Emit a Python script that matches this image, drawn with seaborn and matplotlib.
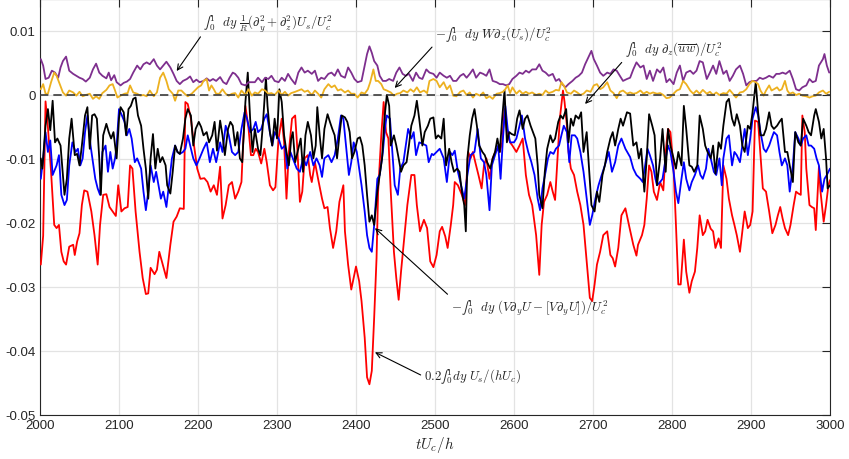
import numpy as np
import pandas as pd
import matplotlib
matplotlib.use("Agg")
import matplotlib.pyplot as plt
import seaborn as sns

# All series values are in units of 1e-3 (multiplied by SCALE before plotting)
SCALE = 1e-3

# 0.2 \int U_s/(hU_c)  (red)
red = [(2001,-26.5),(2004,-22),(2007,-1),(2010,-5),(2014,-12),(2018,-20.3),(2021,-20.8),(2024,-20.3),
       (2027,-24.5),(2030,-26),(2033,-26.5),(2037,-23.7),(2042,-23.4),(2044,-25),(2047,-22.9),(2050,-21.6),
       (2053,-17.2),(2056,-14.9),(2060,-15.1),(2065,-18.2),(2069,-21.9),(2073,-26.5),(2076,-20.3),(2080,-15.6),
       (2084,-15.5),(2088,-17.5),(2092,-18.2),(2096,-18.9),(2099,-14.1),(2103,-18.2),(2107,-17.7),(2111,-17.5),
       (2114,-11),(2117,-11.5),(2121,-18.2),(2126,-24.5),(2130,-28.6),(2134,-31.1),(2137,-31),(2140,-27),
       (2145,-28),(2148,-27.3),(2151,-24.5),(2155,-26.3),(2160,-28.6),(2165,-23.4),(2169,-19.8),(2173,-19),
       (2177,-17.7),(2182,-17.8),(2184,-1.1),(2187,-1.4),(2191,-3.7),(2195,-7.9),(2199,-11.5),(2203,-13.1),
       (2208,-13),(2212,-13.6),(2216,-15.1),(2220,-14.1),(2224,-15.6),(2228,-11.2),(2231,-19.3),(2235,-17.2),
       (2239,-14.1),(2243,-13.6),
       (2247,-16.2),(2251,-15.1),(2255,-13.6),(2257,-7.9),(2260,-1.7),(2264,-5.3),(2267,-9.4),(2270,-9.4),
       (2273,-8.4),(2276,-8.9),(2280,-10.7),(2284,-8.4),(2287,-10.5),(2291,-14.1),(2295,-14.9),(2298,-14.4),
       (2302,-6.8),(2306,-3.7),(2309,-7.4),(2312,-16.2),(2315,-8.9),(2319,-3.7),(2323,-3.2),(2326,-8.9),
       (2329,-16.7),(2332,-15.1),(2335,-9.9),(2339,-9.4),(2342,-12.5),(2344,-13.6),(2348,-10.5),(2352,-13.1),
       (2357,-16.2),(2360,-17.7),(2364,-17.5),(2367,-20.8),(2371,-23.9),(2375,-21.3),(2379,-16.7),(2384,-14.1),
       (2386,-21.3),(2390,-26.5),(2394,-30.4),(2397,-28.6),(2400,-26.8),(2404,-29.1),(2407,-32.2),(2411,-37.9),
       (2414,-44.1),(2417,-45.2),(2420,-43.1),(2423,-34.8),(2426,-25.5),(2428,-15.1),(2432,-6.3),(2435,-1.1),
       (2438,-5.8),(2441,-6.8),(2444,-15.1),(2448,-24.5),(2451,-28.6),(2454,-32),(2457,-27.6),(2461,-22.4),
       (2465,-17.2),(2470,-12.5),(2474,-12.5),(2477,-17.2),(2481,-21.3),(2486,-19.5),(2490,-20.8),(2494,-26),
       (2498,-26.9),(2502,-25),(2506,-21.3),(2509,-20.6),(2513,-22.1),(2516,-23.9),(2520,-20.3),(2523,-17.2),
       (2525,-13.6),(2529,-14.1),(2534,-15.6),(2538,-17.2),(2542,-8.9),(2545,-9.9),(2548,-8.9),(2551,-10.5),
       (2555,-12.5),(2559,-14.6),(2562,-11),(2565,-9.9),(2569,-13.1),(2573,-9.9),(2578,-8.4),(2582,-8.9),
       (2585,-7.4),(2588,-2.2),(2591,-5.8),(2595,-7.4),(2598,-7.9),(2603,-8.9),(2607,-7.9),(2611,-6.8),
       (2615,-12.5),(2619,-15.6),(2623,-17.2),(2628,-21.9),(2632,-28.1),(2635,-20.3),(2638,-16.7),(2642,-15.6),
       (2646,-13.6),(2649,-15.1),(2652,-16.4),(2655,-9.9),(2658,-3.7),(2662,0.7),(2664,-1.1),(2667,-4.8),
       (2669,-8.9),(2672,-11.5),(2676,-12.5),(2680,-15.1),(2684,-17.2),(2688,-20.3),(2692,-26),(2696,-31.7),
       (2699,-32.2),(2702,-29.6),(2705,-26.5),(2709,-24.5),(2713,-21.9),(2718,-21.3),(2722,-25),(2725,-25.5),
       (2728,-26.8),(2732,-23.9),(2736,-18.8),(2741,-17.7),
       (2746,-20.6),(2751,-23.4),(2755,-25.1),(2757,-23.4),(2762,-21.9),(2765,-20.3),(2768,-16.2),(2771,-11),
       (2774,-12),(2777,-15.1),(2781,-16.4),(2785,-13.6),(2789,-14.9),(2792,-8.9),(2795,-5.3),(2798,-5.8),
       (2802,-11.5),(2805,-20.3),(2808,-29.6),(2811,-29.6),(2815,-22.6),(2818,-27.6),(2822,-30.9),(2825,-29.1),
       (2829,-27.6),(2832,-23.9),(2835,-18.8),(2839,-21.9),(2842,-21.3),(2845,-19.5),(2849,-20.9),(2852,-21.3),
       (2855,-23.9),(2859,-22.4),(2862,-23.9),(2865,-11),(2869,-13.1),(2872,-16.2),(2876,-18.8),(2879,-20.3),
       (2882,-21.9),(2886,-24.5),(2889,-21.3),(2892,-18.2),(2896,-20.8),(2899,-20.3),(2902,-18.2),(2905,-4),
       (2909,-4.2),(2912,-9.4),(2915,-14.6),(2919,-15.1),(2923,-18.2),(2927,-21.6),(2931,-20.3),(2934,-18.8),
       (2937,-17.5),(2940,-19.3),(2943,-20.8),(2947,-21.9),(2950,-20.3),(2954,-17.2),(2957,-15.1),(2960,-15.4),
       (2963,-15.6),(2965,-3.2),(2968,-5.8),(2970,-11.5),(2974,-17.2),(2977,-17.5),(2980,-17.7),(2982,-21.1),
       (2986,-11.2),(2988,-15.1),(2992,-19.8),(2995,-17.2),(2998,-14.1),(3000,-13.3)]

# -\int (V d_y U - [V d_y U]) / U_c^2  (blue)
blue = [(2001,-13.1),(2004,-9.9),(2007,-5.8),(2010,-8.9),(2013,-7.1),(2016,-12.5),(2021,-11),(2024,-9.4),
        (2027,-15.6),(2031,-17.2),(2034,-16.4),(2037,-11),(2041,-7.4),(2045,-8.9),(2048,-8.4),(2051,-11),
        (2054,-9.9),(2057,-5.8),(2060,-3.2),(2064,-7.9),(2067,-10.5),(2070,-13.1),(2073,-14.6),(2076,-15.6),
        (2079,-8.9),(2083,-7.9),(2086,-12),(2089,-8.9),(2092,-11.5),(2095,-9.9),(2097,-7.9),(2100,-2.2),
        (2103,-3),(2107,-4.2),(2110,-6.3),(2113,-5.3),(2116,-6.8),(2120,-10.5),(2123,-9.9),(2128,-11.5),
        (2131,-15.1),(2134,-18),(2137,-15.1),(2140,-11),(2144,-13.6),(2147,-12),(2150,-14.1),(2153,-16.2),
        (2156,-15.1),(2160,-17.5),(2164,-13.1),(2167,-9.9),(2171,-7.9),(2174,-8.9),(2177,-9.2),(2181,-8.9),
        (2184,-8.4),(2187,-6.3),(2191,-8.4),(2194,-9.9),(2198,-11),(2202,-9.9),(2207,-8.4),(2211,-7.4),
        (2215,-10.5),(2219,-8.4),(2223,-10.5),(2228,-7.4),(2231,-8.9),(2235,-4.8),(2239,-6.3),(2243,-8.9),
        (2247,-9.4),(2251,-8.9),(2255,-5.3),(2259,-2.7),(2262,-3.7),(2266,-5.8),(2270,-5.3),(2273,-4.2),
        (2276,-5.8),(2280,-5.3),(2284,-3.7),(2287,-3),(2291,-5.8),(2294,-7.9),(2297,-5.8),(2302,-6.8),
        (2306,-8.4),(2310,-7.9),(2313,-11.5),(2317,-8.9),(2320,-9.9),(2325,-11.5),(2329,-12),(2333,-9.9),
        (2337,-11),(2342,-8.9),(2346,-11),(2350,-9.9),(2354,-11),(2357,-12.8),(2360,-9.9),(2365,-9.4),
        (2369,-10.5),(2373,-9.4),(2377,-6.8),(2381,-3.2),(2384,-3.7),(2387,-7.4),(2391,-12.5),(2394,-10.5),
        (2397,-7.4),(2401,-8.9),(2404,-11.5),(2407,-14.1),(2411,-18.2),(2414,-21.9),(2417,-23.9),(2420,-24.5),
        (2423,-20.3),(2427,-13.1),(2430,-12.5),(2434,-8.9),(2437,-4.8),(2439,-3.2),(2443,-3.7),(2446,-8.9),
        (2449,-14.1),(2453,-15.6),(2456,-11.5),(2460,-10.5),(2463,-7.9),(2466,-5.3),(2470,-6.8),(2473,-5.8),
        (2476,-9.4),(2480,-7.4),(2484,-7.6),(2489,-7.9),(2492,-10.5),(2496,-9.2),
        (2498,-9.4),(2502,-8.9),(2506,-8.4),(2511,-9.9),(2515,-13.6),(2519,-8.9),(2522,-9.4),(2525,-8.7),
        (2529,-12),(2533,-14.1),(2537,-16.2),(2541,-12.5),(2545,-9.4),(2550,-8.9),(2554,-5.3),(2558,-9.9),
        (2562,-10.5),(2565,-12.5),(2569,-18),(2572,-11),(2576,-9.4),(2580,-7.9),(2583,-13.1),(2586,-6.8),
        (2589,-1.7),(2592,-5.3),(2595,-7.4),(2600,-7.4),(2603,-6.8),(2606,-5.3),(2610,-3.2),(2614,-6.8),
        (2618,-8.9),(2622,-10.5),(2626,-12.5),(2630,-16.2),(2633,-18),(2636,-14.6),(2640,-12),(2643,-9.9),
        (2646,-8.9),(2650,-9.2),(2653,-8.4),(2657,-7.9),(2660,-6.3),(2663,-4.8),(2667,-5.8),(2670,-10.5),
        (2673,-6.3),(2677,-6.3),(2680,-6.8),(2684,-8.9),(2688,-12),(2692,-16.2),(2696,-20.3),(2699,-18.8),
        (2703,-16.2),(2707,-14.1),(2711,-12.5),(2715,-11),(2720,-8.9),(2724,-12),(2728,-10.5),(2732,-7.9),
        (2736,-6.8),(2741,-8.4),
        (2747,-9.7),(2751,-11.5),(2755,-12.5),(2760,-13.1),(2763,-13.6),(2766,-11),(2769,-8.4),(2772,-9.4),
        (2776,-11),(2779,-13.1),(2781,-14.1),(2785,-13.6),(2788,-13.1),(2792,-9.9),(2795,-7.9),(2798,-8.9),
        (2802,-12),(2805,-15.1),(2808,-16.9),(2812,-13.1),(2815,-10.5),(2818,-13.1),(2822,-14.9),(2825,-13.6),
        (2829,-12.5),(2833,-11),(2836,-12.5),(2839,-13.1),(2843,-11.5),(2846,-8.4),(2849,-9.9),(2853,-12),
        (2856,-12.5),(2860,-9.9),(2863,-14.1),(2865,-9.9),(2869,-6.8),(2872,-6.3),(2876,-11),(2879,-8.9),
        (2882,-9.4),(2886,-10.5),(2889,-7.9),(2892,-5.3),(2896,-9.4),(2899,-6.8),(2902,-3.7),(2906,-1.9),
        (2909,-3.2),(2912,-5.8),(2916,-8.4),(2919,-8.9),(2923,-7.9),(2926,-6.8),(2929,-5.8),(2933,-6.3),
        (2936,-8.9),(2939,-11),(2943,-9.9),(2946,-11),(2949,-15.1),(2953,-11),(2956,-5.8),(2960,-6.8),
        (2963,-7.9),(2966,-6.8),(2970,-6.3),(2973,-7.9),(2976,-7.9),(2980,-8.4),(2983,-9.9),(2986,-11),
        (2990,-15.1),(2993,-13.1),(2996,-12.5),(3000,-11.5)]

# \int (1/R)(d_y^2 + d_z^2) U_s / U_c^2 ... black trace
black = [(2001,-9.9),(2003,-11.5),(2007,-4.8),(2010,-2.2),(2013,-5.5),(2016,-0.9),(2019,-7.4),(2022,-6.8),
         (2026,-7.9),(2029,-12.5),(2031,-15.6),(2034,-13.1),(2037,-6.8),(2040,-3.7),(2044,-9.4),(2047,-9.2),
         (2050,-11),(2053,-7.9),(2057,-3.2),(2060,-1.9),(2063,-8.4),(2066,-3.2),(2069,-3),(2072,-3.7),
         (2075,-9.9),(2077,-15.6),(2080,-6.3),(2084,-4.5),(2087,-5.8),(2090,-6.8),(2093,-5.8),(2097,-9.9),
         (2100,-3.7),(2102,-1.9),(2106,-2.7),(2109,-6.3),(2112,-2.2),(2115,-1.7),(2118,-0.6),(2121,-0.4),
         (2124,-3.2),(2128,-4.8),(2131,-8.4),(2134,-11.5),(2137,-16.2),(2140,-9.9),(2143,-6.1),(2146,-11.5),
         (2149,-8.4),(2152,-10.5),(2155,-9.7),(2159,-11),(2161,-14.1),(2165,-15.4),(2168,-12),(2171,-7.9),
         (2174,-8.9),(2177,-9.2),(2181,-6.8),(2184,-3.7),(2187,-2.2),(2191,-3.2),(2194,-7.9),(2197,-5.3),
         (2201,-4.2),(2204,-5),(2207,-6.3),(2211,-5.8),(2214,-7.4),(2218,-6.3),(2221,-4.2),(2224,-8.7),
         (2228,-4),(2231,-6.3),(2234,-9.4),(2238,-5.3),(2241,-4.2),(2244,-4.8),
         (2247,-7.9),(2250,-5.8),(2253,-9.9),(2256,-10.5),(2260,-1.1),(2263,3.5),(2266,-3.7),(2269,-8.9),
         (2272,-5.3),(2276,-8.4),(2279,-9.4),(2282,-4.8),(2286,2.7),(2288,-1.7),(2291,-5.8),(2294,-7.9),
         (2297,-3.7),(2300,-6.8),(2303,0.9),(2306,-1.1),(2309,-6.3),(2312,-8.9),(2315,-11),(2318,-6.8),
         (2320,-5.8),(2323,-10.5),(2327,-8.4),(2330,-6.8),(2333,-12),(2336,-6.3),(2339,-4.2),(2343,-6.3),
         (2346,-9.9),(2349,-7.9),(2351,-1.9),(2354,-6.3),(2357,-9.9),(2360,-5.3),(2364,-3),(2367,-4.2),
         (2370,-5.3),(2373,-6.3),(2376,-9.9),(2379,-6.3),(2382,-3.2),(2386,-3.5),(2389,-4.2),(2392,-5.8),
         (2395,-9.9),(2398,-8.9),(2402,-6.8),(2405,-6.6),(2408,-7.9),(2411,-11),(2414,-15.6),(2417,-19.8),
         (2420,-18.8),(2423,-20.3),(2427,-15.1),(2430,-12.5),(2433,-9.9),(2436,-3.7),(2439,0),(2442,-1.7),
         (2444,-7.9),(2448,-6.3),(2451,-7.9),(2454,-9.9),(2457,-12),(2460,-11),(2464,-10.5),(2467,-7.9),
         (2470,-4.8),(2474,-3.2),(2477,-0.9),(2480,-3.7),(2484,-7.9),(2487,-5.8),(2491,-4.8),(2494,-3.7),
         (2498,-3.5),(2501,-6.8),(2504,-6.3),(2508,-6.8),(2511,-3.7),(2514,-11),(2518,-8.4),(2521,-10.5),
         (2524,-12),(2528,-11.5),(2531,-12),(2534,-15.1),(2537,-17.2),(2539,-21.3),(2541,-9.9),(2544,-6.3),
         (2547,-3.7),(2550,-2.2),(2553,-4.8),(2556,-7.9),(2560,-8.9),(2563,-9.4),(2566,-10.5),(2570,-11.5),
         (2573,-9.9),(2576,-8.9),(2579,-6.8),(2582,-8.9),(2585,-3.7),(2588,0.7),(2591,-7.4),(2594,-5.8),
         (2597,-6.1),(2601,-6.3),(2604,-3.7),(2607,-2.4),(2611,-5.3),(2614,-3.7),(2617,-3.2),(2621,-4.8),
         (2624,-5.8),(2627,-6.8),(2630,-11),(2632,-15.6),(2636,-17.7),(2639,-12),(2642,-8.4),(2646,-6.3),
         (2649,-7.4),(2652,-6.8),(2656,-4.2),(2659,-3.2),(2662,-3.7),(2666,-2.2),(2669,-7.4),(2672,-3.7),
         (2675,-4.8),(2678,-3.2),(2682,-3.7),(2685,-2.7),(2688,-8.9),(2692,-5.8),(2695,-11.5),(2698,-17.2),
         (2702,-18.2),(2705,-15.1),(2708,-16.7),(2712,-12.5),(2715,-11),(2718,-8.9),(2722,-6.8),(2725,-5.8),
         (2728,-7.9),(2732,-5.3),(2735,-3.7),(2738,-4.8),(2743,-2.7),
         (2747,-2.9),(2751,-7.9),(2755,-7.4),(2758,-9.9),(2761,-8.4),(2765,-15.1),(2768,-9.9),(2771,-3),
         (2775,-4.8),(2778,-6.3),(2781,-14.1),(2785,-9.9),(2788,-5.3),(2792,-12),(2795,-5.3),(2798,-7.9),
         (2802,-9.9),(2805,-11.5),(2808,-8.9),(2812,-11),(2815,-1.7),(2818,-5.3),(2822,-11),(2825,-11.2),
         (2828,-12),(2832,-11),(2835,-3.2),(2839,-5.3),(2842,-7.9),(2845,-8.9),(2849,-9.9),(2852,-7.9),
         (2855,-12.3),(2859,-7.4),(2862,-8.4),(2865,-4.8),(2869,-1.1),(2872,-0.6),(2876,-3.7),(2879,-4.8),
         (2882,-3),(2886,-4.8),(2889,-7.9),(2892,-8.9),(2896,-4.8),(2899,-5.3),(2902,-2.7),(2906,2),
         (2909,-2.7),(2912,-6.3),(2916,-6.3),(2919,-5.3),(2923,-2.7),(2926,-4.8),(2929,-5.3),(2933,-4.8),
         (2936,-4.2),(2939,-3.7),(2943,-8.9),(2946,-8.9),(2949,-11),(2953,-13.6),(2956,-5.8),(2960,-7.4),
         (2963,-7.9),(2966,-3.7),(2970,-4.8),(2973,-5.8),(2976,-6.3),(2980,-3.2),(2982,-2.2),(2986,-4.2),
         (2989,-6.8),(2992,-5.3),(2995,-9.9),(2997,-14.6),(3000,-14.1)]

# \int d_z(uw)/U_c^2 (purple)
purple = [(2001,5.6),(2004,4.6),(2007,2.5),(2011,2.7),(2015,3.8),(2019,3.5),(2023,2.7),(2026,4.3),
          (2029,5.3),(2033,6),(2037,3.8),(2042,3.3),(2046,3),(2050,2.7),(2054,2.5),(2058,2.1),
          (2063,2.7),(2067,4),(2071,4.9),(2075,3.5),(2079,3),(2084,2.6),(2087,3.5),(2090,2.3),
          (2094,3.1),(2097,2),(2102,1.5),(2106,1.9),(2110,2.1),(2114,2.5),(2118,3.5),(2123,4.6),
          (2127,4),(2131,4.8),(2135,5.1),(2139,4.8),(2144,5.6),(2148,4.6),(2152,4),(2156,4.6),
          (2160,5.2),(2165,4.3),(2169,3.3),(2173,2.2),(2177,1.7),(2181,2.2),(2186,2.5),(2190,2.9),
          (2194,2),(2198,2.4),(2202,2),(2207,2.2),(2211,2.6),(2215,2.2),(2219,2.5),(2223,2.2),
          (2228,2.8),(2232,2),(2236,1.7),(2240,2.7),(2244,3.5),
          (2247,3.3),(2251,2.7),(2255,1.7),(2260,1.5),(2264,2),(2268,2),(2272,2),(2276,2.7),
          (2281,2),(2285,2.7),(2289,2.5),(2293,3),(2297,2.2),(2302,2),(2306,2.7),(2310,2.2),
          (2314,3.3),(2318,2.5),(2323,1.7),(2327,3.5),(2331,4.3),(2335,3.5),(2339,3.8),(2344,3.3),
          (2348,3.8),(2352,2.2),(2356,2.7),(2360,2.5),(2365,3.3),(2369,3.5),(2373,3),(2377,4),
          (2381,3),(2386,2.7),(2390,4.3),(2394,3.5),(2398,2.5),(2402,2),(2407,2.2),(2411,4.6),
          (2414,6.4),(2417,7.6),(2420,6.6),(2423,5.3),(2427,4.6),(2430,3),(2434,2.2),(2438,2.2),
          (2442,2.5),(2447,2.2),(2451,3.5),(2455,4.3),(2459,3.3),(2463,3),(2467,3.3),(2472,2.2),
          (2476,3.5),(2480,2.7),(2484,2.5),(2489,4),(2493,3.5),
          (2498,3.3),(2502,2.7),(2506,3.5),(2511,3),(2515,2.7),(2519,3),(2523,2.2),(2527,2.2),
          (2532,3),(2536,3.3),(2540,2.7),(2544,3.3),(2548,4),(2552,2.7),(2557,3.5),(2561,3.3),
          (2565,3),(2569,4),(2573,2.2),(2578,2),(2582,1.7),(2586,1.7),(2590,1.5),(2594,1.7),
          (2598,2.5),(2603,3),(2607,3.5),(2611,3.3),(2615,3.8),(2619,3.5),(2623,4),(2628,4),
          (2632,4.8),(2636,3.8),(2640,3.5),(2644,3),(2649,3.3),(2653,2.2),(2657,2.5),(2661,1.7),
          (2665,1.2),(2669,1.7),(2674,2.2),(2678,2.7),(2682,3),(2686,3.5),(2690,4.8),(2695,6.1),
          (2698,6.9),(2701,5.6),(2705,4.6),(2709,3.5),(2713,3),(2718,3.5),(2722,3.3),(2726,4),
          (2730,3.8),(2734,3),(2738,2.2),(2743,2.5),
          (2747,2.7),(2751,4),(2755,5.1),(2760,4.3),(2764,4.6),(2768,2.5),(2772,3.8),(2776,2.2),
          (2781,4),(2785,3.5),(2789,4.3),(2793,2),(2797,2.5),(2802,1.7),(2806,3.5),(2810,4.6),
          (2814,2.2),(2818,3.5),(2823,3.8),(2827,3.3),(2831,3.8),(2835,5.3),(2839,5.1),(2844,2.5),
          (2848,3.5),(2852,4.6),(2856,3.3),(2860,5.3),(2865,3.3),(2869,3.8),(2873,2.2),(2877,3),
          (2881,4),(2886,4.6),(2890,3.3),(2894,1.5),(2898,2),(2902,2.2),(2907,2.2),(2911,2.7),
          (2915,2.5),(2919,2.7),(2923,3),(2928,2.7),(2932,3.3),(2936,3.3),(2940,3.5),(2944,3.3),
          (2949,3.8),(2953,2.5),(2957,0.9),(2961,0.7),(2965,1.2),(2970,1.5),(2974,2.5),(2978,2),
          (2982,2.2),(2986,4.6),(2991,5.6),(2993,6.4),(2996,4.6),(2999,3.5)]

# -\int W d_z(U_s)/U_c^2 (yellow)
yellow = [(2001,0.9),(2004,1.7),(2007,0.2),(2010,0.2),(2014,2),(2018,3.5),(2021,3),(2025,1.7),
          (2029,0.4),(2033,-0.1),(2037,0.7),(2042,0.4),(2046,-0.1),(2050,0.5),(2054,-0.2),(2058,0),
          (2063,0.2),(2067,-0.6),(2071,-0.2),(2075,-0.6),(2079,0.3),(2084,0.8),(2088,1.5),(2092,1.7),
          (2095,0.7),(2098,-0.4),(2102,-0.1),(2107,0.2),(2111,0.3),(2114,1.5),(2118,0.4),(2123,0.2),
          (2127,-0.1),(2131,0),(2135,-0.2),(2139,0.7),(2144,-0.2),(2148,0.4),(2152,2.7),(2156,3.5),
          (2160,2.2),(2163,0.9),(2168,0.2),(2171,-0.9),(2175,0.7),(2179,0.7),(2183,0.2),(2187,-0.2),
          (2192,0.2),(2196,0.7),(2200,1.2),(2204,1.5),(2207,2.2),(2211,2.5),(2214,0.7),(2217,1.5),
          (2220,0.9),(2223,0.2),(2227,0.2),(2231,0.9),(2235,0.2),(2239,-0.1),(2243,0.2),
          (2247,0.3),(2251,-0.4),(2255,0.7),(2260,0),(2264,0.9),(2268,-0.1),(2272,0.4),(2276,0.2),
          (2281,0.9),(2285,0.7),(2289,0.2),(2293,0.3),(2297,0),(2302,0.7),(2306,0),(2310,0.5),
          (2314,-0.1),(2318,0.3),(2323,0.5),(2327,0.7),(2331,0.9),(2335,0.5),(2339,0.7),(2344,0),
          (2348,0.7),(2352,0.2),(2356,-0.4),(2360,0.9),(2365,1.7),(2369,1.2),(2373,1.5),(2377,0.7),
          (2381,0.9),(2386,0.4),(2390,0.7),(2394,0.2),(2398,0.2),(2402,-0.4),(2407,0.4),(2411,0.2),
          (2415,0.9),(2418,2),(2422,4),(2425,2.2),(2428,2.2),(2432,1.7),(2435,0.9),(2439,0.7),
          (2444,0.4),(2448,-0.1),(2452,0.2),(2456,0.3),(2460,0.7),(2465,0.4),(2469,0.9),(2473,0.5),
          (2477,1.2),(2481,0.4),(2486,0.7),(2490,0.3),(2493,2.2),
          (2498,2.5),(2502,2.2),(2506,1.2),(2511,2),(2515,0.9),(2519,1.5),(2523,-0.1),(2527,-0.2),
          (2532,0.5),(2536,0.7),(2540,0),(2544,0.4),(2548,-0.4),(2552,0.2),(2557,-0.1),(2561,0.4),
          (2565,-0.5),(2569,-0.2),(2573,-0.6),(2578,0.2),(2582,0.3),(2586,0.5),(2589,0.9),(2592,1.5),
          (2595,0.3),(2598,1.2),(2603,0.2),(2607,0.7),(2611,0.2),(2615,0.5),(2619,0.2),(2623,0.4),
          (2628,0),(2632,0.2),(2636,0),(2640,0.7),(2644,0.3),(2649,0.5),(2653,0.8),(2657,0.7),
          (2660,2),(2663,1.5),(2667,0.4),(2672,0.2),(2676,0.7),(2680,0.4),(2684,0),(2688,0.2),
          (2692,0.7),(2697,0.5),(2701,1.5),(2705,1.7),(2709,0.9),(2713,1.2),(2718,2),(2722,0.7),
          (2726,0.3),(2730,-0.5),(2734,0.5),(2738,0.7),(2743,0.2),
          (2747,0.4),(2751,0.2),(2755,0.3),(2760,0.7),(2764,0.2),(2768,0.5),(2772,0.2),(2776,0.4),
          (2781,0.2),(2785,0.3),(2789,0),(2793,-0.5),(2797,-0.4),(2802,0.2),(2806,0.7),(2810,0.9),
          (2814,2.2),(2818,1.7),(2823,0.7),(2827,0.2),(2831,0.7),(2835,0.2),(2839,0.8),(2844,0.2),
          (2848,0.5),(2852,0),(2856,0.4),(2860,0),(2865,0.3),(2869,0.2),(2873,0.8),(2877,0.2),
          (2881,-0.4),(2886,0.4),(2890,0.5),(2894,0.9),(2898,1.7),(2902,2.2),(2906,2),(2909,1.7),
          (2912,0.7),(2916,-0.1),(2919,0.7),(2923,1.5),(2926,0.7),(2929,0.9),(2933,1.2),(2936,0.7),
          (2939,0.9),(2943,2.2),(2946,0.7),(2949,0.2),(2953,0.4),(2957,0),(2961,0.2),(2965,-0.1),
          (2970,-0.2),(2974,-0.4),(2978,-0.2),(2982,-0.1),(2986,0.4),(2991,0.7),(2995,0.2),(2999,0.5)]

series = [("red", red, "#ff0000"), ("blue", blue, "#0000ff"), ("black", black, "#000000"),
          ("purple", purple, "#7e2f8e"), ("yellow", yellow, "#edb120")]

x_ticks = list(range(2000, 3001, 100))
y_ticks = [-0.05, -0.04, -0.03, -0.02, -0.01, 0, 0.01]
y_tick_labels = ["-0.05", "-0.04", "-0.03", "-0.02", "-0.01", "0", "0.01"]

sns.set_style("white")
plt.rcParams["font.family"] = ["Liberation Sans", "DejaVu Sans"]
plt.rcParams["mathtext.fontset"] = "cm"
plt.rcParams["axes.unicode_minus"] = False

fig = plt.figure(figsize=(8.49, 4.60), dpi=100)
ax = fig.add_axes([40 / 849, 1 - 416 / 460, 790 / 849, 416 / 460])

for name, pts, col in series:
    df = pd.DataFrame(pts, columns=["t", "v"])
    df["v"] = df["v"] * SCALE
    sns.lineplot(data=df, x="t", y="v", color=col, lw=1.3, ax=ax,
                 estimator=None, sort=False, zorder=3)

ax.axhline(0, color="#3a3a3a", lw=1.2, ls=(0, (5, 3)), zorder=4)

ax.set_xlim(2000, 3000)
ax.set_ylim(-0.05, 0.015)
ax.set_xticks(x_ticks)
ax.set_xticklabels([str(t) for t in x_ticks])
ax.set_yticks(y_ticks)
ax.set_yticklabels(y_tick_labels)
ax.grid(True, color="#e3e3e3", lw=0.9, zorder=0)
ax.set_axisbelow(True)
ax.tick_params(direction="in", length=5.8, width=0.8, color="#262626",
               labelsize=9.5, labelcolor="#262626", top=True, right=True, pad=3)
for s in ax.spines.values():
    s.set_color("#262626")
    s.set_linewidth(0.8)
ax.set_ylabel("")
ax.set_xlabel(r"$tU_c/h$", fontsize=11, labelpad=2, color="#262626")

# integral sign drawn at text size
INT = r"\mathrm{∫}"
afs = 9.3
tcol = "#262626"


def arrow(relpos):
    return dict(arrowstyle="->", color="k", lw=0.8, shrinkA=0, shrinkB=0,
                mutation_scale=10, relpos=relpos)


ax.annotate(r"$" + INT + r"_0^1\ \ dy\ \frac{1}{R}(\partial_y^2+\partial_z^2)U_s/U_c^2$",
            xy=(2173, 0.00375), xytext=(2206, 0.0096), fontsize=afs, color=tcol,
            ha="left", va="bottom", arrowprops=arrow((0, 0)), zorder=6)
ax.annotate(r"$-" + INT + r"_0^1\ \ dy\ W\partial_z(U_s)/U_c^2$",
            xy=(2449, 0.0011), xytext=(2500, 0.0080), fontsize=afs, color=tcol,
            ha="left", va="bottom", arrowprops=arrow((0, 0)), zorder=6)
ax.annotate(r"$" + INT + r"_0^1\ \ dy\ \partial_z(\overline{uw})/U_c^2$",
            xy=(2690, -0.0014), xytext=(2740, 0.0056), fontsize=afs, color=tcol,
            ha="left", va="bottom", arrowprops=arrow((0, 0)), zorder=6)
ax.annotate(r"$-" + INT + r"_0^1\ \ dy\ (V\partial_y U-[V\partial_y U])/U_c^2$",
            xy=(2424, -0.0208), xytext=(2520, -0.0316), fontsize=afs, color=tcol,
            ha="left", va="top", arrowprops=arrow((0, 1)), zorder=6)
ax.annotate(r"$0.2" + INT + r"_0^1 dy\ U_s/(hU_c)$",
            xy=(2424, -0.0402), xytext=(2486, -0.0440), fontsize=afs, color=tcol,
            ha="left", va="center", arrowprops=arrow((0, 0.5)), zorder=6)

fig.savefig("out.png", dpi=100, facecolor="white")
